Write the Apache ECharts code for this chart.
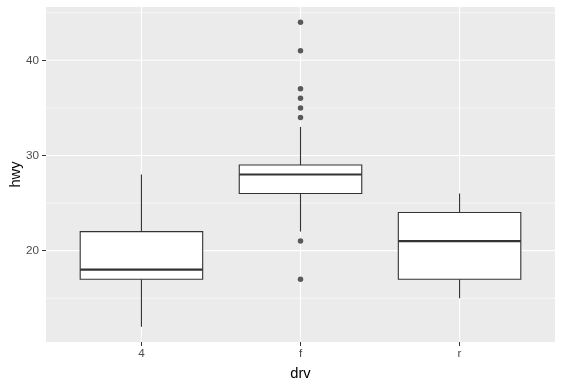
<!DOCTYPE html>
<html>
<head>
<meta charset="utf-8">
<script src="https://cdn.jsdelivr.net/npm/echarts@6/dist/echarts.min.js"></script>
<style>html,body{margin:0;padding:0;background:#fff;}#c{width:574px;height:388px;}</style>
</head>
<body>
<div id="c"></div>
<script>
// Data
const categories = ['4', 'f', 'r'];
// [lowerWhisker, Q1, median, Q3, upperWhisker]
const box4 = [12, 17, 18, 22, 28];
const boxF = [22, 26, 28, 29, 33];
const boxR = [15, 17, 21, 24, 26];
const outliersF = [17, 21, 34, 35, 36, 37, 41, 44];
const yMajorBreaks = [20, 30, 40];
const yMinorBreaks = [15, 25, 35, 45];
const yRange = [10.4, 45.6];

const boxes = [box4, boxF, boxR];
const boxData = boxes.map((b, i) => [i + 1].concat(b));
const outlierData = outliersF.map(v => [2, v]);
const xPositions = categories.map((c, i) => i + 1);

const font = '"Liberation Sans", Arial, sans-serif';
const BOX_W = 0.77;

const chart = echarts.init(document.getElementById('c'), null, {renderer: 'canvas'});

function gridRender(kind, width) {
  return function (params, api) {
    const cs = params.coordSys;
    const v = api.value(0);
    let shape;
    if (kind === 'y') {
      const p = api.coord([1, v]);
      shape = {x1: cs.x, y1: p[1], x2: cs.x + cs.width, y2: p[1]};
    } else {
      const p = api.coord([v, yRange[0]]);
      shape = {x1: p[0], y1: cs.y, x2: p[0], y2: cs.y + cs.height};
    }
    return {type: 'line', shape: shape, style: {stroke: '#FFFFFF', lineWidth: width}, silent: true};
  };
}

const option = {
  animation: false,
  grid: {left: 46, right: 19, top: 7, bottom: 46, show: true, backgroundColor: '#EBEBEB', borderWidth: 0,
    containLabel: false, outerBoundsMode: 'none'},
  xAxis: {
    type: 'value', min: 0.4, max: 3.6,
    name: 'drv', nameLocation: 'middle', nameGap: 24, nameMoveOverlap: false,
    nameTextStyle: {color: '#000', fontSize: 14.7, fontFamily: font},
    axisLine: {show: false},
    axisTick: {show: true, customValues: xPositions, length: 4, lineStyle: {color: '#333333', width: 1}},
    axisLabel: {customValues: xPositions, color: '#4D4D4D', fontSize: 11.7, fontFamily: font, margin: 6,
      formatter: v => categories[Math.round(v) - 1]},
    splitLine: {show: false}
  },
  yAxis: {
    type: 'value', min: yRange[0], max: yRange[1],
    name: 'hwy', nameLocation: 'middle', nameGap: 23, nameRotate: 90, nameMoveOverlap: false,
    nameTextStyle: {color: '#000', fontSize: 14.7, fontFamily: font},
    axisLine: {show: false},
    axisTick: {show: true, customValues: yMajorBreaks, length: 4, lineStyle: {color: '#333333', width: 1}},
    axisLabel: {customValues: yMajorBreaks, color: '#4D4D4D', fontSize: 11.7, fontFamily: font, margin: 7},
    splitLine: {show: false}
  },
  series: [
    {type: 'custom', z: 1, data: yMinorBreaks.map(v => [v]), renderItem: gridRender('y', 0.55), silent: true},
    {type: 'custom', z: 1, data: yMajorBreaks.map(v => [v]), renderItem: gridRender('y', 1.1), silent: true},
    {type: 'custom', z: 1, data: xPositions.map(v => [v]), renderItem: gridRender('x', 1.1), silent: true},
    {
      type: 'custom', z: 3, data: boxData, silent: true,
      renderItem: function (params, api) {
        const x = api.value(0);
        const lo = api.coord([x, api.value(1)]);
        const q1 = api.coord([x, api.value(2)]);
        const md = api.coord([x, api.value(3)]);
        const q3 = api.coord([x, api.value(4)]);
        const hi = api.coord([x, api.value(5)]);
        const hw = api.size([BOX_W, 0])[0] / 2;
        const cx = q1[0];
        const stroke = {stroke: '#333333', lineWidth: 1.1, fill: null};
        return {
          type: 'group',
          children: [
            {type: 'line', shape: {x1: cx, y1: q3[1], x2: cx, y2: hi[1]}, style: stroke},
            {type: 'line', shape: {x1: cx, y1: q1[1], x2: cx, y2: lo[1]}, style: stroke},
            {type: 'rect', shape: {x: cx - hw, y: q3[1], width: hw * 2, height: q1[1] - q3[1]},
              style: {fill: '#FFFFFF', stroke: '#333333', lineWidth: 1.1}},
            {type: 'line', shape: {x1: cx - hw, y1: md[1], x2: cx + hw, y2: md[1]},
              style: {stroke: '#333333', lineWidth: 2.2}}
          ]
        };
      }
    },
    {type: 'scatter', z: 4, data: outlierData, symbol: 'circle', symbolSize: 5.5,
      itemStyle: {color: '#333333'}, silent: true}
  ]
};
chart.setOption(option);
</script>
</body>
</html>
